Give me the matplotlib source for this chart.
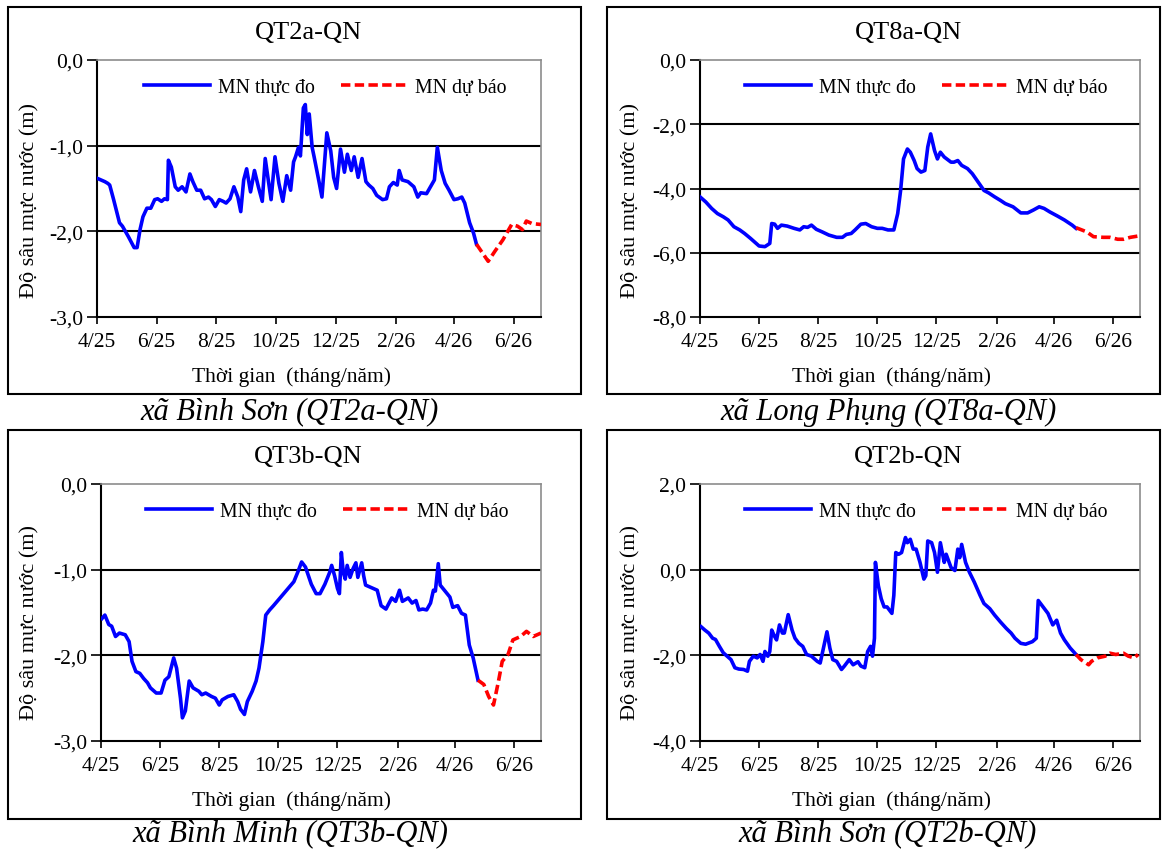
import numpy as np
import matplotlib
matplotlib.use("Agg")
import matplotlib.pyplot as plt
from matplotlib.patches import Rectangle
from matplotlib.ticker import FuncFormatter, FixedLocator

plt.rcParams['font.family'] = ['Liberation Serif', 'DejaVu Serif']

START = np.datetime64('2025-04-01')
END = np.datetime64('2026-06-29')
tick_dates = ['2025-04-01', '2025-06-01', '2025-08-01', '2025-10-01', '2025-12-01',
              '2026-02-01', '2026-04-01', '2026-06-01']
tick_labels = ['4/25', '6/25', '8/25', '10/25', '12/25', '2/26', '4/26', '6/26']

# days counted from 1/4/2025
qt2a_obs_day = [0, 4, 8, 11, 13, 17, 23, 26, 32, 38, 41, 44, 47, 51, 55, 59, 62, 66, 69, 72, 73, 76,
                80, 83, 87, 91, 95, 98, 102, 106, 110, 114, 117, 121, 125, 129, 132, 136, 140, 144,
                147, 150, 153, 157, 161, 165, 169, 172, 178, 182, 186, 190, 194, 198, 201, 203, 206,
                208, 211, 213, 215, 217, 220, 222, 227, 230, 235, 239, 242, 245, 249, 253, 256, 260,
                263, 267, 271, 275, 278, 282, 286, 292, 296, 299, 303, 307, 309, 312, 318, 324, 328,
                331, 337, 341, 345, 348, 352, 356, 360, 365, 369, 373, 376, 381, 385, 388]
qt2a_obs_val = [-1.38, -1.40, -1.42, -1.44, -1.46, -1.63, -1.90, -1.94, -2.06, -2.19, -2.19, -1.98,
                -1.83, -1.73, -1.73, -1.63, -1.62, -1.65, -1.62, -1.63, -1.17, -1.25, -1.48, -1.52,
                -1.48, -1.54, -1.33, -1.42, -1.52, -1.52, -1.62, -1.60, -1.63, -1.71, -1.63, -1.65,
                -1.67, -1.62, -1.48, -1.60, -1.77, -1.40, -1.27, -1.54, -1.29, -1.48, -1.65, -1.15,
                -1.63, -1.13, -1.44, -1.65, -1.35, -1.52, -1.19, -1.13, -1.02, -1.12, -0.56, -0.52,
                -0.87, -0.63, -1.02, -1.13, -1.42, -1.60, -0.85, -1.06, -1.37, -1.50, -1.04, -1.31,
                -1.10, -1.29, -1.13, -1.37, -1.15, -1.42, -1.46, -1.50, -1.58, -1.63, -1.62, -1.48,
                -1.43, -1.46, -1.29, -1.40, -1.42, -1.48, -1.60, -1.55, -1.56, -1.48, -1.40, -1.02,
                -1.29, -1.44, -1.52, -1.63, -1.62, -1.60, -1.67, -1.90, -2.02, -2.15]
qt2a_fc_day = [388, 394, 400, 407, 415, 424, 430, 435, 439, 445, 454]
qt2a_fc_val = [-2.15, -2.25, -2.35, -2.23, -2.10, -1.92, -1.94, -1.98, -1.88, -1.91, -1.92]

qt8a_obs_day = [0, 6, 12, 18, 24, 29, 35, 41, 46, 52, 58, 61, 67, 72, 74, 77, 80, 84, 90, 97, 103,
                107, 111, 115, 120, 126, 133, 141, 147, 151, 156, 160, 166, 171, 177, 183, 188, 194,
                200, 204, 207, 210, 214, 217, 221, 224, 228, 232, 235, 238, 242, 245, 248, 252, 259,
                262, 266, 270, 276, 281, 287, 293, 298, 304, 310, 315, 323, 331, 338, 344, 350, 355,
                361, 369, 376, 384, 388]
qt8a_obs_val = [-4.26, -4.42, -4.62, -4.78, -4.88, -4.98, -5.19, -5.29, -5.40, -5.55, -5.71, -5.79,
                -5.81, -5.71, -5.09, -5.11, -5.24, -5.14, -5.17, -5.24, -5.29, -5.19, -5.21, -5.14,
                -5.27, -5.35, -5.45, -5.52, -5.52, -5.43, -5.40, -5.29, -5.11, -5.09, -5.19, -5.24,
                -5.24, -5.29, -5.29, -4.78, -4.06, -3.08, -2.77, -2.87, -3.13, -3.38, -3.49, -3.44,
                -2.71, -2.30, -2.82, -3.08, -2.87, -3.02, -3.18, -3.18, -3.13, -3.28, -3.38, -3.54,
                -3.80, -4.06, -4.14, -4.26, -4.37, -4.47, -4.57, -4.76, -4.76, -4.67, -4.57, -4.62,
                -4.73, -4.86, -4.98, -5.14, -5.24]
qt8a_fc_day = [388, 399, 406, 416, 423, 431, 437, 444, 452]
qt8a_fc_val = [-5.22, -5.35, -5.50, -5.52, -5.52, -5.58, -5.58, -5.52, -5.48]

qt3b_obs_day = [1, 4, 8, 11, 15, 19, 25, 29, 32, 36, 40, 44, 48, 51, 57, 62, 66, 70, 75, 78, 82, 84,
                87, 91, 95, 101, 104, 108, 114, 118, 122, 125, 131, 137, 141, 144, 148, 151, 156,
                160, 163, 167, 170, 174, 178, 184, 190, 196, 199, 203, 207, 211, 217, 222, 226, 231,
                236, 238, 241, 244, 246, 248, 250, 252, 254, 257, 260, 263, 265, 269, 271, 273, 277,
                281, 285, 289, 294, 300, 304, 308, 311, 317, 321, 325, 328, 332, 336, 340, 343, 345,
                348, 350, 355, 360, 363, 368, 372, 376, 380, 384, 389]
qt3b_obs_val = [-1.57, -1.53, -1.64, -1.66, -1.78, -1.74, -1.76, -1.84, -2.07, -2.19, -2.21, -2.27,
                -2.32, -2.38, -2.44, -2.44, -2.29, -2.25, -2.03, -2.15, -2.50, -2.73, -2.65, -2.30,
                -2.38, -2.42, -2.46, -2.44, -2.48, -2.50, -2.58, -2.52, -2.48, -2.46, -2.54, -2.63,
                -2.69, -2.54, -2.42, -2.30, -2.15, -1.84, -1.53, -1.47, -1.42, -1.34, -1.26, -1.18,
                -1.14, -1.03, -0.91, -0.97, -1.17, -1.28, -1.28, -1.17, -1.03, -0.95, -1.07, -1.22,
                -1.28, -0.80, -1.03, -1.11, -0.95, -1.09, -0.99, -0.92, -1.09, -0.92, -1.07, -1.18,
                -1.20, -1.22, -1.24, -1.42, -1.46, -1.33, -1.37, -1.24, -1.37, -1.33, -1.39, -1.36,
                -1.47, -1.46, -1.47, -1.39, -1.24, -1.25, -0.93, -1.18, -1.25, -1.32, -1.44, -1.42,
                -1.51, -1.53, -1.88, -2.03, -2.29]
qt3b_fc_day = [389, 395, 400, 405, 410, 414, 420, 425, 433, 439, 446, 454]
qt3b_fc_val = [-2.29, -2.34, -2.48, -2.58, -2.31, -2.07, -1.99, -1.82, -1.78, -1.72, -1.78, -1.74]

qt2b_obs_day = [1, 5, 9, 13, 16, 20, 24, 28, 32, 36, 40, 45, 49, 51, 55, 59, 62, 65, 67, 70, 72, 74,
                77, 79, 82, 85, 87, 91, 95, 98, 102, 106, 110, 115, 121, 124, 127, 131, 134, 137,
                141, 146, 149, 154, 158, 163, 166, 170, 173, 176, 178, 180, 181, 184, 187, 190, 193,
                198, 200, 202, 205, 208, 212, 214, 217, 220, 223, 227, 231, 233, 235, 239, 242, 245,
                248, 252, 254, 259, 263, 266, 268, 270, 274, 278, 283, 289, 293, 299, 304, 310, 316,
                321, 325, 331, 336, 343, 347, 349, 354, 359, 364, 368, 372, 376, 382, 388]
qt2b_obs_val = [-1.33, -1.41, -1.48, -1.60, -1.63, -1.79, -1.94, -2.02, -2.10, -2.29, -2.32, -2.33,
                -2.37, -2.14, -2.02, -2.06, -1.98, -2.14, -1.91, -2.02, -1.91, -1.41, -1.56, -1.64,
                -1.29, -1.48, -1.48, -1.05, -1.41, -1.60, -1.72, -1.79, -1.98, -2.02, -2.14, -2.18,
                -1.87, -1.45, -1.83, -2.10, -2.14, -2.33, -2.25, -2.10, -2.22, -2.15, -2.25, -2.29,
                -1.91, -1.79, -2.02, -1.60, 0.17, -0.37, -0.68, -0.87, -0.87, -1.02, -0.60, 0.40,
                0.36, 0.40, 0.75, 0.63, 0.71, 0.48, 0.48, 0.17, -0.22, -0.14, 0.67, 0.63, 0.40,
                -0.06, 0.63, 0.17, 0.36, 0.05, -0.02, 0.48, 0.28, 0.59, 0.17, -0.06, -0.29, -0.60,
                -0.79, -0.91, -1.06, -1.22, -1.37, -1.48, -1.60, -1.72, -1.74, -1.68, -1.60, -0.72,
                -0.87, -1.02, -1.29, -1.18, -1.48, -1.64, -1.83, -1.98]
qt2b_fc_day = [388, 393, 401, 404, 410, 418, 423, 429, 437, 442, 448, 452]
qt2b_fc_val = [-1.98, -2.10, -2.22, -2.14, -2.06, -2.02, -1.95, -1.98, -1.95, -2.02, -2.06, -1.98]

titles = ['QT2a-QN', 'QT8a-QN', 'QT3b-QN', 'QT2b-QN']
captions = ['xã Bình Sơn (QT2a-QN)', 'xã Long Phụng (QT8a-QN)',
            'xã Bình Minh (QT3b-QN)', 'xã Bình Sơn (QT2b-QN)']
y_limits = [(-3, 0), (-8, 0), (-3, 0), (-4, 2)]
y_steps = [1, 2, 1, 2]

W, H = 1165, 854


def to_dates(days):
    return START + np.array(days).astype('timedelta64[D]')


def fx(px):
    return px / W


def fy(py):
    return 1 - py / H


def comma(v, pos):
    return f"{v:.1f}".replace('.', ',')


fig = plt.figure(figsize=(W / 100, H / 100), dpi=100)

# pixel layout of each panel: frame box, axes box, text centres
panels = [
    dict(frame=(8, 8, 581, 395), ax=(97, 61, 541, 318), title=(308, 33), xlab=(291, 377), ylab=(30, 200), cap=(290, 412)),
    dict(frame=(607, 8, 1160, 395), ax=(700, 61, 1140, 318), title=(908, 33), xlab=(891, 377), ylab=(631, 200), cap=(888, 412)),
    dict(frame=(8, 431, 581, 820), ax=(101, 485, 541, 742), title=(308, 457), xlab=(291, 801), ylab=(30, 623), cap=(290, 835)),
    dict(frame=(607, 431, 1160, 820), ax=(700, 485, 1140, 742), title=(908, 457), xlab=(891, 801), ylab=(631, 623), cap=(888, 835)),
]

series = [
    (qt2a_obs_day, qt2a_obs_val, qt2a_fc_day, qt2a_fc_val),
    (qt8a_obs_day, qt8a_obs_val, qt8a_fc_day, qt8a_fc_val),
    (qt3b_obs_day, qt3b_obs_val, qt3b_fc_day, qt3b_fc_val),
    (qt2b_obs_day, qt2b_obs_val, qt2b_fc_day, qt2b_fc_val),
]

tick_days = [(np.datetime64(d) - START).astype(int) for d in tick_dates]

for i, p in enumerate(panels):
    x0, y0, x1, y1 = p['frame']
    fig.patches.append(Rectangle((fx(x0), fy(y1)), fx(x1 - x0), (y1 - y0) / H,
                                 transform=fig.transFigure, fill=False, ec='black', lw=1.5))
    a0, b0, a1, b1 = p['ax']
    ax = fig.add_axes([fx(a0), fy(b1), fx(a1 - a0), (b1 - b0) / H])

    od, ov, fd, fv = series[i]
    ax.plot(to_dates(od), ov, color='#0000ff', lw=2.6, label='MN thực đo', zorder=3)
    ax.plot(to_dates(fd), fv, color='#ff0000', lw=2.6, ls=(0, (2.6, 1.2)), label='MN dự báo', zorder=3)

    lo, hi = y_limits[i]
    ticks = np.arange(lo, hi + 0.001, y_steps[i])
    ax.set_ylim(lo, hi)
    ax.yaxis.set_major_locator(FixedLocator(ticks))
    ax.yaxis.set_major_formatter(FuncFormatter(comma))
    for t in ticks[1:-1]:
        ax.axhline(t, color='black', lw=1.5, zorder=1)

    ax.set_xlim(START, END)
    ax.set_xticks(to_dates(tick_days))
    ax.set_xticklabels(tick_labels)

    ax.tick_params(axis='both', direction='out', width=1.2, labelsize=15.5, colors='black')
    ax.tick_params(axis='y', length=7, pad=3)
    ax.tick_params(axis='x', length=5, pad=6)
    for s in ['left', 'bottom']:
        ax.spines[s].set_linewidth(1.5)
        ax.spines[s].set_color('black')
    for s in ['top', 'right']:
        ax.spines[s].set_linewidth(1.2)
        ax.spines[s].set_color('#8c8c8c')

    ax.legend(loc='upper center', bbox_to_anchor=(0.514, 1.0), ncol=2, frameon=False,
              fontsize=14.3, handlelength=3.3, columnspacing=1.35, handletextpad=0.4)

    fig.text(fx(p['title'][0]), fy(p['title'][1]), titles[i], ha='center', va='center', fontsize=19)
    fig.text(fx(p['xlab'][0]), fy(p['xlab'][1]), 'Thời gian  (tháng/năm)',
             ha='center', va='center', fontsize=15.5)
    fig.text(fx(p['ylab'][0]), fy(p['ylab'][1]), 'Độ sâu mực nước (m)', rotation=90,
             ha='center', va='center', fontsize=16)
    fig.text(fx(p['cap'][0]), fy(p['cap'][1]), captions[i], ha='center', va='center',
             fontsize=22, style='italic')

fig.savefig('out.png', dpi=100, facecolor='white')
